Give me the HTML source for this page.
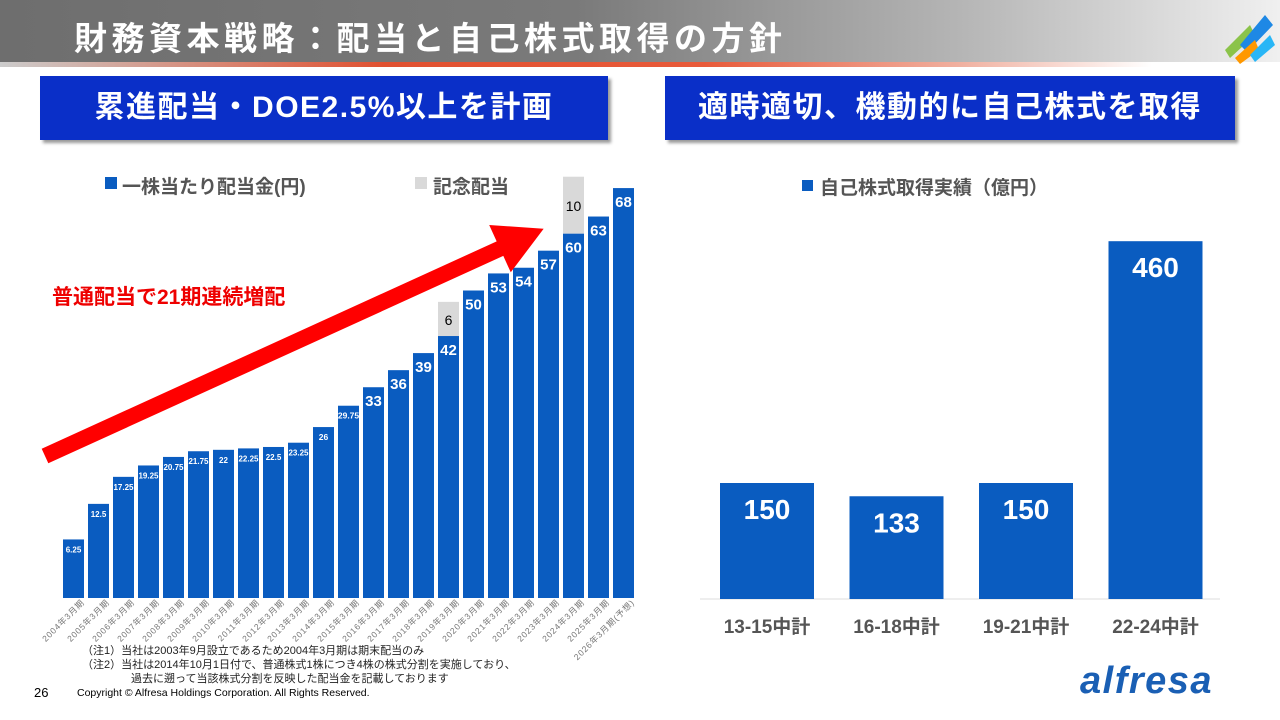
<!DOCTYPE html>
<html><head><meta charset="utf-8">
<style>
body{margin:0;width:1280px;height:720px;overflow:hidden;background:#fff;font-family:"Liberation Sans","Noto Sans CJK JP",sans-serif;position:relative}
.hdr{position:absolute;left:0;top:0;width:1280px;height:64px;background:linear-gradient(90deg,#6e6e6e 0%,#7a7a7a 45%,#b5b5b5 75%,#f0f0f0 100%)}
.hdr .line{position:absolute;left:0;top:62px;width:1280px;height:5px;background:linear-gradient(90deg,#ccc 0%,#e05030 30%,#e85a3a 55%,#f0b0a0 75%,#fff 90%)}
.title{position:absolute;left:74px;top:12px;color:#fff;font-size:33px;font-weight:bold;letter-spacing:4.5px}
.box{position:absolute;top:76px;height:64px;background:#0a2fc8;color:#fff;font-size:30px;font-weight:bold;text-align:center;line-height:64px;box-shadow:3px 3px 3px #999;letter-spacing:1.5px}
.note{position:absolute;font-size:11px;color:#222}
</style></head><body>
<div class="hdr"><div class="line"></div></div>
<div class="title">財務資本戦略：配当と自己株式取得の方針</div>
<svg style="position:absolute;left:1195px;top:0" width="85" height="66">
<polygon points="30,50 55,25 60,35 35,58" fill="#8bc34a"/><polygon points="45,45 70,15 78,25 52,52" fill="#1e88e5"/><polygon points="40,58 60,40 64,50 45,64" fill="#ff9800"/><polygon points="55,55 75,35 80,45 60,62" fill="#29b6f6"/></svg>
<div class="box" style="left:40px;width:568px">累進配当・DOE2.5%以上を計画</div>
<div class="box" style="left:665px;width:570px">適時適切、機動的に自己株式を取得</div>

<svg id="left" style="position:absolute;left:0;top:0" width="660" height="720">
<rect x="105" y="177" width="12" height="12" fill="#0a5cc0"/>
<text x="122" y="193" font-size="19" font-weight="bold" fill="#555">一株当たり配当金(円)</text>
<rect x="415" y="177" width="12" height="12" fill="#d9d9d9"/>
<text x="433" y="193" font-size="19" font-weight="bold" fill="#555">記念配当</text>
<g id="lbars"></g>
<g transform="translate(45,456) rotate(-24.5)">
<polygon points="0,-8 500,-8 500,-26 548,0 500,26 500,8 0,8" fill="#f00"/></g>
<text x="52" y="304" font-size="21" font-weight="bold" fill="#e00">普通配当で21期連続増配</text>
</svg>

<svg id="right" style="position:absolute;left:660px;top:0" width="620" height="720">
<rect x="142" y="180" width="11" height="11" fill="#0a5cc0"/>
<text x="160" y="194" font-size="19" font-weight="bold" fill="#555">自己株式取得実績（億円）</text>
<line x1="40" y1="599" x2="560" y2="599" stroke="#ddd"/>
<g id="rbars"></g>
</svg>

<div class="note" style="left:82px;top:642px">（注1）当社は2003年9月設立であるため2004年3月期は期末配当のみ</div>
<div class="note" style="left:82px;top:656px">（注2）当社は2014年10月1日付で、普通株式1株につき4株の株式分割を実施しており、</div>
<div class="note" style="left:131px;top:670px">過去に遡って当該株式分割を反映した配当金を記載しております</div>
<div style="position:absolute;left:34px;top:685px;font-size:13px">26</div>
<div style="position:absolute;left:77px;top:687px;font-size:10.5px">Copyright © Alfresa Holdings Corporation. All Rights Reserved.</div>
<div style="position:absolute;left:1080px;top:660px;font-size:38px;font-weight:bold;font-style:italic;color:#1a5fb4;letter-spacing:1.5px">alfresa</div>

<script>
const years=["2004年3月期","2005年3月期","2006年3月期","2007年3月期","2008年3月期","2009年3月期","2010年3月期","2011年3月期","2012年3月期","2013年3月期","2014年3月期","2015年3月期","2016年3月期","2017年3月期","2018年3月期","2019年3月期","2020年3月期","2021年3月期","2022年3月期","2023年3月期","2024年3月期","2025年3月期","2026年3月期(予想)"];
const dividends=[6.25,12.5,17.25,19.25,20.75,21.75,22,22.25,22.5,23.25,26,29.75,33,36,39,42,50,53,54,57,60,63,68];
const commemorative=[0,0,0,0,0,0,0,0,0,0,0,0,0,0,0,6,0,0,0,0,10,0,0];
const periods=["13-15中計","16-18中計","19-21中計","22-24中計"];
const buybacks=[150,133,150,460];
const NS="http://www.w3.org/2000/svg";
function mk(t,a,p){const e=document.createElementNS(NS,t);for(const k in a)e.setAttribute(k,a[k]);p.appendChild(e);return e;}
const lx=i=>63+i*25, ly=v=>575-5.69*v, base=598;
const lg=document.getElementById('lbars');
dividends.forEach((v,i)=>{
 const r=mk('rect',{x:lx(i),y:ly(v),width:21,height:base-ly(v),fill:'#0a5cc0'},lg);
 
 
 const big=v>=33;
 const t=mk('text',{x:lx(i)+10.5,y:ly(v)+(big?19:13),'text-anchor':'middle','font-size':big?15:(v>=26?8.5:8),'font-weight':'bold',fill:'#fff'},lg);
 t.textContent=v;
 
 
 const c=commemorative[i];
 if(c){
  const cr=mk('rect',{x:lx(i),y:ly(v+c),width:21,height:ly(v)-ly(v+c),fill:'#d9d9d9'},lg);
  
  
  const ct=mk('text',{x:lx(i)+10.5,y:ly(v+c)+(ly(v)-ly(v+c))/2+6,'text-anchor':'middle','font-size':14,fill:'#000'},lg);
  ct.textContent=c;
  
  
 }
 const xl=mk('text',{x:lx(i)+22,y:603,'text-anchor':'end','font-size':8.5,fill:'#777','letter-spacing':'0.8',transform:`rotate(-45 ${lx(i)+22} 603)`},lg);
 xl.textContent=years[i];
 
 
});
const rx=i=>60+i*129.5, ry=v=>600-0.78*v;
const rg=document.getElementById('rbars');
buybacks.forEach((v,i)=>{
 const r=mk('rect',{x:rx(i),y:ry(v),width:94,height:599-ry(v),fill:'#0a5cc0'},rg);
 
 
 const t=mk('text',{x:rx(i)+47,y:ry(v)+36,'text-anchor':'middle','font-size':28,'font-weight':'bold',fill:'#fff'},rg);
 t.textContent=v;
 
 
 const l=mk('text',{x:rx(i)+47,y:633,'text-anchor':'middle','font-size':19,'font-weight':'bold',fill:'#555'},rg);
 l.textContent=periods[i];
 
 
});
</script>
</body></html>
